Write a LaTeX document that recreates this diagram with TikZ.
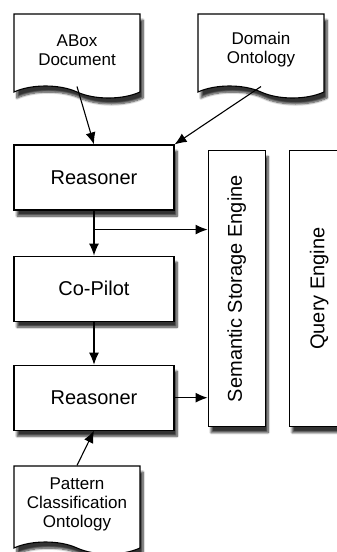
\documentclass[tikz,border=0pt]{standalone}
\usepackage{fontspec}
\setmainfont{Liberation Sans}
\usetikzlibrary{arrows.meta,shapes.symbols,shadows.blur,positioning}
\tikzset{
  %Define standard arrow tip
    >={Latex[length=12pt,width=10pt]},
  %define style for boxes
  block/.style={
    rectangle,
    draw=black,line width=1.1pt,
    fill=white,
    blur shadow={shadow xshift=3pt,shadow yshift=-6pt,shadow blur steps=8,shadow opacity=80},
    minimum width=160pt,
    minimum height=65pt,
    font=\fontsize{20}{22}\selectfont},
  engine/.style={
    block,
    minimum width=57pt,
    minimum height=276pt},
  docu/.style={
    tape,
    tape bend top=none,
    tape bend bottom=out and in,
    tape bend height=12pt,
    draw=black,line width=1.1pt,
    fill=white,
    blur shadow={shadow xshift=3pt,shadow yshift=-6pt,shadow blur steps=8,shadow opacity=80},
    text width=112pt,
    align=center,
    minimum width=126pt,
    minimum height=84pt,
    font=\fontsize{17}{19}\selectfont},
  %define style for arrows
  myarrow/.style={
    ->,
    line width=1.1pt}
}
\begin{document}
\begin{tikzpicture}[x=1pt,y=1pt]
\useasboundingbox (0,0) rectangle (337,-552);
%nodes
\node[block] (reasoner1) at (94,-177.5) {Reasoner};
\node[block, below=45pt of reasoner1] (copilot) {Co-Pilot};
\node[block, below=43pt of copilot] (reasoner2) {Reasoner};

\node[engine, right=33pt of copilot] (storage) {\rotatebox{90}{Semantic Storage Engine}};
\node[engine, right=23pt of storage, minimum width=60pt] (query) {\rotatebox{90}{Query Engine}};

\node[docu] (abox) at (77,-50) {ABox\\Document};
\node[docu] (domain) at (261,-50) {Domain\\Ontology};
\node[docu, minimum height=88pt] (pattern) at (77,-504) {Pattern\\Classification\\Ontology};

%arrows
\draw[myarrow] (abox.south) -- (reasoner1.north);
\draw[myarrow] (domain.south) -- (reasoner1.north east);
\draw[myarrow] (reasoner1.south) -- (copilot.north);
\coordinate (split) at ([yshift=-19pt]reasoner1.south);
\draw[myarrow] (split) -- (split -| storage.west);
\draw[myarrow] (copilot.south) -- (reasoner2.north);
\draw[myarrow] (reasoner2.east) -- (reasoner2.east -| storage.west);
\draw[myarrow] (pattern.north) -- (reasoner2.south);

\end{tikzpicture}
\end{document}
